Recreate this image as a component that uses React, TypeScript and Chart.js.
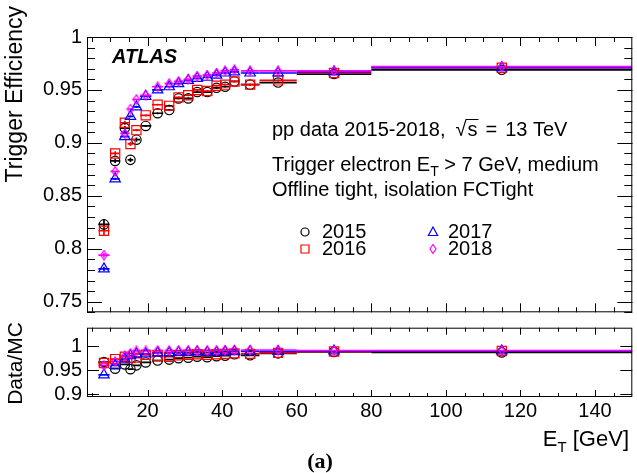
import React, { useEffect, useRef } from "react";
import { Chart, registerables } from "chart.js";

Chart.register(...registerables);

// ---------------- data ----------------
const years = ["2015", "2016", "2017", "2018"];
const colors = ["#000000", "#ff0000", "#0000ff", "#ff00ff"];

const etCenters = [8.3, 11.3, 13.9, 15.4, 17, 19.5, 22.7, 25.8, 28.3, 30.9, 33.3, 36, 38.5, 40.8, 43.3, 47.5, 55, 70, 115];
const etHalfWidths = [1.5, 1.25, 1.25, 0.75, 1, 1.5, 1.5, 1.25, 1.25, 1.25, 1.25, 1.25, 1.25, 1.25, 1.25, 2.5, 5, 10, 35];

const eff2015 = [0.823, 0.883, 0.914, 0.884, 0.903, 0.916, 0.928, 0.931, 0.942, 0.942, 0.948, 0.948, 0.952, 0.953, 0.958, 0.955, 0.957, 0.965, 0.969];
const eff2016 = [0.817, 0.890, 0.919, 0.899, 0.912, 0.926, 0.936, 0.935, 0.943, 0.945, 0.950, 0.949, 0.954, 0.955, 0.958, 0.955, 0.959, 0.966, 0.971];
const eff2017 = [0.781, 0.866, 0.906, 0.925, 0.934, 0.944, 0.950, 0.953, 0.956, 0.959, 0.961, 0.962, 0.964, 0.966, 0.967, 0.966, 0.966, 0.967, 0.971];
const eff2018 = [0.794, 0.873, 0.909, 0.932, 0.941, 0.945, 0.953, 0.956, 0.958, 0.960, 0.963, 0.964, 0.966, 0.968, 0.969, 0.968, 0.968, 0.968, 0.972];

const effErr2015 = [0.005, 0.002, 0.002, 0.002, 0.002, 0.001, 0.001, 0.001, 0.001, 0.001, 0.001, 0.001, 0.001, 0.001, 0.001, 0.001, 0.001, 0.001, 0.001];
const effErr2016 = [0.004, 0.002, 0.002, 0.002, 0.001, 0.001, 0.001, 0.001, 0.001, 0.001, 0.001, 0.001, 0.001, 0.001, 0.001, 0.001, 0.001, 0.001, 0.001];
const effErr2017 = [0.002, 0.001, 0.001, 0.001, 0.001, 0.001, 0.001, 0.001, 0.001, 0.001, 0.001, 0.001, 0.001, 0.001, 0.001, 0.001, 0.001, 0.001, 0.001];
const effErr2018 = [0.002, 0.001, 0.001, 0.001, 0.001, 0.001, 0.001, 0.001, 0.001, 0.001, 0.001, 0.001, 0.001, 0.001, 0.001, 0.001, 0.001, 0.001, 0.001];

const ratio2015 = [0.967, 0.953, 0.962, 0.952, 0.960, 0.966, 0.970, 0.972, 0.975, 0.976, 0.978, 0.977, 0.979, 0.980, 0.983, 0.981, 0.985, 0.988, 0.987];
const ratio2016 = [0.965, 0.973, 0.978, 0.975, 0.976, 0.982, 0.980, 0.978, 0.981, 0.982, 0.983, 0.982, 0.983, 0.984, 0.985, 0.984, 0.986, 0.989, 0.990];
const ratio2017 = [0.940, 0.960, 0.973, 0.980, 0.984, 0.984, 0.986, 0.986, 0.987, 0.987, 0.988, 0.987, 0.987, 0.988, 0.989, 0.989, 0.989, 0.990, 0.990];
const ratio2018 = [0.960, 0.968, 0.980, 0.985, 0.990, 0.990, 0.991, 0.991, 0.991, 0.991, 0.991, 0.991, 0.991, 0.992, 0.992, 0.992, 0.992, 0.991, 0.991];

const xTickLabels = [20, 40, 60, 80, 100, 120, 140];
const effTickLabels = [0.75, 0.8, 0.85, 0.9, 0.95, 1];
const ratioTickLabels = [0.9, 0.95, 1];

const X_MIN = 3.75;
const X_MAX = 150;
const EFF_MIN = 0.74;
const EFF_MAX = 1.0;
const RATIO_MIN = 0.894;
const RATIO_MAX = 1.0385;

// ---------------- helpers ----------------
const FONT = '"Liberation Sans", Arial, Helvetica, sans-serif';

function makeDiamond(color: string, w: number, h: number) {
  const c = document.createElement("canvas");
  c.width = w;
  c.height = h;
  const g = c.getContext("2d")!;
  g.strokeStyle = color;
  g.lineWidth = 1.2;
  g.beginPath();
  g.moveTo(w / 2, 0.8);
  g.lineTo(w - 0.8, h / 2);
  g.lineTo(w / 2, h - 0.8);
  g.lineTo(0.8, h / 2);
  g.closePath();
  g.stroke();
  return c;
}

function drawMarker(ctx: CanvasRenderingContext2D, kind: number, x: number, y: number, s: number) {
  ctx.save();
  ctx.strokeStyle = colors[kind];
  ctx.lineWidth = 1.2;
  ctx.beginPath();
  if (kind === 0) {
    ctx.arc(x, y, 4 * s, 0, Math.PI * 2);
  } else if (kind === 1) {
    ctx.rect(x - 4 * s, y - 4 * s, 8 * s, 8 * s);
  } else if (kind === 2) {
    ctx.moveTo(x, y - 5 * s);
    ctx.lineTo(x + 4.6 * s, y + 3.5 * s);
    ctx.lineTo(x - 4.6 * s, y + 3.5 * s);
    ctx.closePath();
  } else {
    ctx.moveTo(x, y - 4.5 * s);
    ctx.lineTo(x + 3 * s, y);
    ctx.lineTo(x, y + 4.5 * s);
    ctx.lineTo(x - 3 * s, y);
    ctx.closePath();
  }
  ctx.stroke();
  ctx.restore();
}

function drawWithSub(
  ctx: CanvasRenderingContext2D,
  parts: { t: string; sub?: boolean }[],
  x: number,
  y: number,
  size: number,
  align: "left" | "right" = "left"
) {
  ctx.save();
  ctx.fillStyle = "#000";
  ctx.textBaseline = "middle";
  ctx.textAlign = "left";
  const widths = parts.map((p) => {
    ctx.font = `${p.sub ? Math.round(size * 0.7) : size}px ${FONT}`;
    return ctx.measureText(p.t).width;
  });
  const total = widths.reduce((a, b) => a + b, 0);
  let cx = align === "left" ? x : x - total;
  parts.forEach((p, i) => {
    ctx.font = `${p.sub ? Math.round(size * 0.7) : size}px ${FONT}`;
    ctx.fillText(p.t, cx, p.sub ? y + size * 0.35 : y);
    cx += widths[i];
  });
  ctx.restore();
}

function frameAndTicks(
  chart: any,
  yMajor: number[],
  yMinorStep: number | null,
  yMin: number,
  yMax: number,
  yMajLen: number,
  yMinLen: number,
  xMajLen: number,
  xMinLen: number
) {
  const { ctx, chartArea } = chart;
  const xs = chart.scales.x;
  const ys = chart.scales.y;
  const { left, right, top, bottom } = chartArea;
  ctx.save();
  ctx.strokeStyle = "#000";
  ctx.lineWidth = 1;
  ctx.strokeRect(left + 0.5, top + 0.5, right - left - 1, bottom - top - 1);
  ctx.beginPath();
  for (let v = 5; v < X_MAX; v += 5) {
    const px = Math.round(xs.getPixelForValue(v)) + 0.5;
    const len = v % 20 === 0 ? xMajLen : xMinLen;
    ctx.moveTo(px, bottom);
    ctx.lineTo(px, bottom - len);
    ctx.moveTo(px, top);
    ctx.lineTo(px, top + len);
  }
  yMajor.forEach((v) => {
    const py = Math.round(ys.getPixelForValue(v)) + 0.5;
    ctx.moveTo(left, py);
    ctx.lineTo(left + yMajLen, py);
    ctx.moveTo(right, py);
    ctx.lineTo(right - yMajLen, py);
  });
  if (yMinorStep) {
    const n = Math.round((yMax - yMin) / yMinorStep);
    for (let k = 0; k <= n + 1; k++) {
      const v = Math.round((Math.ceil(yMin / yMinorStep) + k) * yMinorStep * 1000) / 1000;
      if (v > yMax + 1e-9) break;
      const py = Math.round(ys.getPixelForValue(v)) + 0.5;
      ctx.moveTo(left, py);
      ctx.lineTo(left + yMinLen, py);
      ctx.moveTo(right, py);
      ctx.lineTo(right - yMinLen, py);
    }
  }
  ctx.stroke();
  // y labels
  ctx.fillStyle = "#000";
  ctx.font = `20px ${FONT}`;
  ctx.textAlign = "right";
  ctx.textBaseline = "middle";
  yMajor.forEach((v) => {
    ctx.fillText(String(v), left - 5, ys.getPixelForValue(v));
  });
  ctx.restore();
}

function errorBarPlugin(errs: number[][] | null) {
  return {
    id: "errbars",
    beforeDatasetsDraw(chart: any) {
      const { ctx, chartArea } = chart;
      const xs = chart.scales.x;
      const ys = chart.scales.y;
      ctx.save();
      ctx.beginPath();
      ctx.rect(chartArea.left, chartArea.top, chartArea.right - chartArea.left, chartArea.bottom - chartArea.top);
      ctx.clip();
      chart.data.datasets.forEach((ds: any, i: number) => {
        ctx.strokeStyle = colors[i];
        ctx.lineWidth = 1.7;
        ds.data.forEach((p: any, j: number) => {
          const py = ys.getPixelForValue(p.y);
          const px = xs.getPixelForValue(p.x);
          ctx.beginPath();
          ctx.moveTo(xs.getPixelForValue(p.x - etHalfWidths[j]), py);
          ctx.lineTo(xs.getPixelForValue(p.x + etHalfWidths[j]), py);
          if (errs) {
            ctx.moveTo(px, ys.getPixelForValue(p.y - errs[i][j]));
            ctx.lineTo(px, ys.getPixelForValue(p.y + errs[i][j]));
          }
          ctx.stroke();
        });
      });
      ctx.restore();
    },
  };
}

function buildDatasets(series: number[][], diamond: HTMLCanvasElement) {
  const styles: any[] = ["circle", "rect", "triangle", diamond];
  const radii = [4.7, 6.5, 6, 5];
  return series.map((vals, i) => ({
    label: years[i],
    data: etCenters.map((x, j) => ({ x, y: vals[j] })),
    borderColor: colors[i],
    backgroundColor: "rgba(0,0,0,0)",
    pointStyle: styles[i],
    pointRadius: radii[i],
    pointBorderWidth: 1.2,
    showLine: false,
    order: 3 - i,
  }));
}

function baseOptions(yMin: number, yMax: number, padding: any) {
  return {
    responsive: false,
    animation: false as const,
    events: [],
    layout: { padding },
    plugins: { legend: { display: false }, tooltip: { enabled: false } },
    scales: {
      x: { type: "linear" as const, min: X_MIN, max: X_MAX, display: false },
      y: { type: "linear" as const, min: yMin, max: yMax, display: false },
    },
  };
}

export default function App() {
  const topRef = useRef<HTMLCanvasElement>(null);
  const botRef = useRef<HTMLCanvasElement>(null);

  useEffect(() => {
    const diamond = makeDiamond(colors[3], 8, 11);

    const topDecor = {
      id: "topDecor",
      afterDraw(chart: any) {
        const { ctx } = chart;
        frameAndTicks(chart, effTickLabels, 0.01, EFF_MIN, EFF_MAX, 15, 8, 9, 5);
        ctx.save();
        ctx.fillStyle = "#000";
        ctx.strokeStyle = "#000";
        // ATLAS
        ctx.font = `italic bold 20px ${FONT}`;
        ctx.textBaseline = "middle";
        ctx.textAlign = "left";
        ctx.fillText("ATLAS", 112, 57);
        // pp data line with sqrt(s)
        ctx.font = `20px ${FONT}`;
        const x0 = 272;
        const yl = 130;
        const a = "pp data 2015-2018,";
        ctx.fillText(a, x0, yl);
        let cx = x0 + ctx.measureText(a).width + 10;
        ctx.fillText("\u221A", cx, yl);
        cx += ctx.measureText("\u221A").width + 1;
        const sw = ctx.measureText("s").width;
        ctx.fillText("s", cx, yl);
        ctx.beginPath();
        ctx.lineWidth = 1;
        ctx.moveTo(cx - 2, yl - 10.5);
        ctx.lineTo(cx + sw + 1, yl - 10.5);
        ctx.stroke();
        cx += sw + 8;
        ctx.fillText("=", cx, yl);
        cx += ctx.measureText("=").width + 8;
        ctx.fillText("13 TeV", cx, yl);
        ctx.restore();
        drawWithSub(ctx, [{ t: "Trigger electron E" }, { t: "T", sub: true }, { t: " > 7 GeV, medium" }], 272, 165, 20);
        drawWithSub(ctx, [{ t: "Offline tight, isolation FCTight" }], 272, 190, 20);
        // legend
        const legendPos = [
          [305, 232, 322],
          [305, 249, 322],
          [433, 232, 448],
          [433, 249, 448],
        ];
        years.forEach((yr, i) => {
          const [mx, my, tx] = legendPos[i];
          drawMarker(ctx, i, mx, my, 1);
          drawWithSub(ctx, [{ t: yr }], tx, my, 20);
        });
        // y title
        ctx.save();
        ctx.translate(16, 6);
        ctx.rotate(-Math.PI / 2);
        ctx.font = `23px ${FONT}`;
        ctx.textAlign = "right";
        ctx.textBaseline = "middle";
        ctx.fillStyle = "#000";
        ctx.fillText("Trigger Efficiency", 0, 0);
        ctx.restore();
      },
    };

    const botDecor = {
      id: "botDecor",
      afterDraw(chart: any) {
        const { ctx } = chart;
        const xs = chart.scales.x;
        frameAndTicks(chart, ratioTickLabels, null, RATIO_MIN, RATIO_MAX, 12, 6, 7, 4);
        ctx.save();
        ctx.fillStyle = "#000";
        ctx.font = `20px ${FONT}`;
        ctx.textAlign = "center";
        ctx.textBaseline = "middle";
        xTickLabels.forEach((v) => {
          ctx.fillText(String(v), xs.getPixelForValue(v), 91);
        });
        ctx.restore();
        drawWithSub(ctx, [{ t: "E" }, { t: "T", sub: true }, { t: " [GeV]" }], 629, 120, 22, "right");
        ctx.save();
        ctx.fillStyle = "#000";
        ctx.font = 'bold 22px "Liberation Serif", "Times New Roman", serif';
        ctx.textAlign = "center";
        ctx.textBaseline = "middle";
        ctx.fillText("(a)", 320, 142);
        // y title
        ctx.translate(16, 2);
        ctx.rotate(-Math.PI / 2);
        ctx.font = `21px ${FONT}`;
        ctx.textAlign = "right";
        ctx.fillText("Data/MC", 0, 0);
        ctx.restore();
      },
    };

    const topChart = new Chart(topRef.current!, {
      type: "scatter",
      data: {
        datasets: buildDatasets([eff2015, eff2016, eff2017, eff2018], diamond) as any,
      },
      options: baseOptions(EFF_MIN, EFF_MAX, { left: 87, right: 2, top: 37, bottom: 2 }) as any,
      plugins: [errorBarPlugin([effErr2015, effErr2016, effErr2017, effErr2018]), topDecor],
    });

    const botChart = new Chart(botRef.current!, {
      type: "scatter",
      data: {
        datasets: buildDatasets([ratio2015, ratio2016, ratio2017, ratio2018], diamond) as any,
      },
      options: baseOptions(RATIO_MIN, RATIO_MAX, { left: 87, right: 2, top: 2, bottom: 76 }) as any,
      plugins: [errorBarPlugin(null), botDecor],
    });

    return () => {
      topChart.destroy();
      botChart.destroy();
    };
  }, []);

  return (
    <div style={{ position: "fixed", left: 0, top: 0, width: 637, height: 473, background: "#fff", overflow: "hidden" }}>
      <canvas ref={topRef} width={640} height={320} style={{ position: "absolute", left: 0, top: 0, width: 640, height: 320 }} />
      <canvas ref={botRef} width={640} height={153} style={{ position: "absolute", left: 0, top: 320, width: 640, height: 153 }} />
    </div>
  );
}
